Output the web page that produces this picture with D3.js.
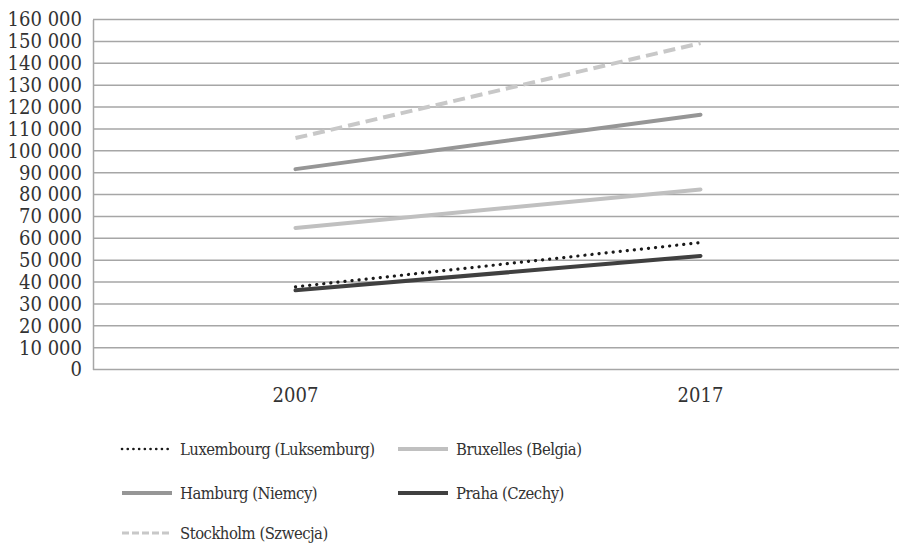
<!DOCTYPE html>
<html><head><meta charset="utf-8">
<script src="https://cdn.jsdelivr.net/npm/d3@7"></script>
<style>
body{margin:0;background:#fff;}
svg text{font-family:"DejaVu Serif Condensed","DejaVu Serif",serif;font-stretch:condensed;fill:#333;}
</style></head><body>
<svg id="c" width="899" height="544"></svg>
<script>
const categories = ["2007","2017"];
const seriesNames = ["Luxembourg (Luksemburg)","Bruxelles (Belgia)","Hamburg (Niemcy)","Praha (Czechy)","Stockholm (Szwecja)"];
const luxembourg = [37800, 58000];
const bruxelles = [64700, 82300];
const hamburg = [91600, 116500];
const praha = [36200, 51900];
const stockholm = [105800, 149200];
const yTicks = d3.range(0, 160001, 10000);

const series = [
  {name: seriesNames[0], values: luxembourg, color:"#1a1a1a", type:"dot"},
  {name: seriesNames[1], values: bruxelles, color:"#c0c0c0", type:"solid"},
  {name: seriesNames[2], values: hamburg, color:"#969696", type:"solid"},
  {name: seriesNames[3], values: praha, color:"#404040", type:"solid"},
  {name: seriesNames[4], values: stockholm, color:"#c8c8c8", type:"dash"}
];
const styles = {
  dot:  {w:3.2, dash:"0.1 7", cap:"round", lw:2.6, ldash:"0.1 5.6", lcap:"round"},
  solid:{w:4, dash:null, cap:"round", lw:4, ldash:null, lcap:"butt"},
  dash: {w:4, dash:"12 6", cap:"butt", lw:3, ldash:"7 3", lcap:"butt"}
};

const svg = d3.select("#c");
const L = 93, R = 903, T = 19.5, B = 369.5;
const x = d3.scaleBand().domain(categories).range([L, R]);
const y = d3.scaleLinear().domain([0,160000]).range([B, T]);
const fmt = v => d3.format(",")(v).replace(/,/g, " ");

// gridlines
svg.append("g").selectAll("line").data(yTicks.filter(d=>d>0)).join("line")
  .attr("x1", L).attr("x2", 899).attr("y1", d=>y(d)).attr("y2", d=>y(d))
  .attr("stroke", "#a6a6a6").attr("stroke-width", 1.5);

// y axis
const ya = svg.append("g").attr("transform", `translate(${L},0)`)
  .call(d3.axisLeft(y).tickValues(yTicks).tickFormat(fmt).tickSize(0).tickPadding(11));
ya.select(".domain").attr("stroke", "#a6a6a6").attr("stroke-width", 1.5);
ya.selectAll("text").attr("font-size", 20).style("fill","#333");

// x axis
const xa = svg.append("g").attr("transform", `translate(0,${B})`)
  .call(d3.axisBottom(x).tickSize(0).tickPadding(18));
xa.select(".domain").attr("stroke", "#a6a6a6").attr("stroke-width", 1.5).attr("d", `M${L},0H899`);
xa.selectAll("text").attr("font-size", 20).style("fill","#333");

// lines
const line = d3.line().x((d,i)=>x(categories[i]) + x.bandwidth()/2).y(d=>y(d));
svg.append("g").selectAll("path").data(series).join("path")
  .attr("d", d=>line(d.values)).attr("fill","none")
  .attr("stroke", d=>d.color).attr("stroke-width", d=>styles[d.type].w)
  .attr("stroke-dasharray", d=>styles[d.type].dash).attr("stroke-linecap", d=>styles[d.type].cap);

// legend
const legendPos = [[122,449],[398,449],[122,493],[398,493],[122,533]];
const lg = svg.append("g").selectAll("g").data(series).join("g")
  .attr("transform", (d,i)=>`translate(${legendPos[i][0]},${legendPos[i][1]})`);
lg.append("line").attr("x1",0).attr("x2",50).attr("y1",0).attr("y2",0)
  .attr("stroke", d=>d.color).attr("stroke-width", d=>styles[d.type].lw)
  .attr("stroke-dasharray", d=>styles[d.type].ldash)
  .attr("stroke-linecap", d=>styles[d.type].lcap);
lg.append("text").attr("x",58).attr("y",0).attr("dy","0.35em").attr("font-size",16.5)
  .attr("letter-spacing","-0.5").text(d=>d.name);
</script></body></html>
